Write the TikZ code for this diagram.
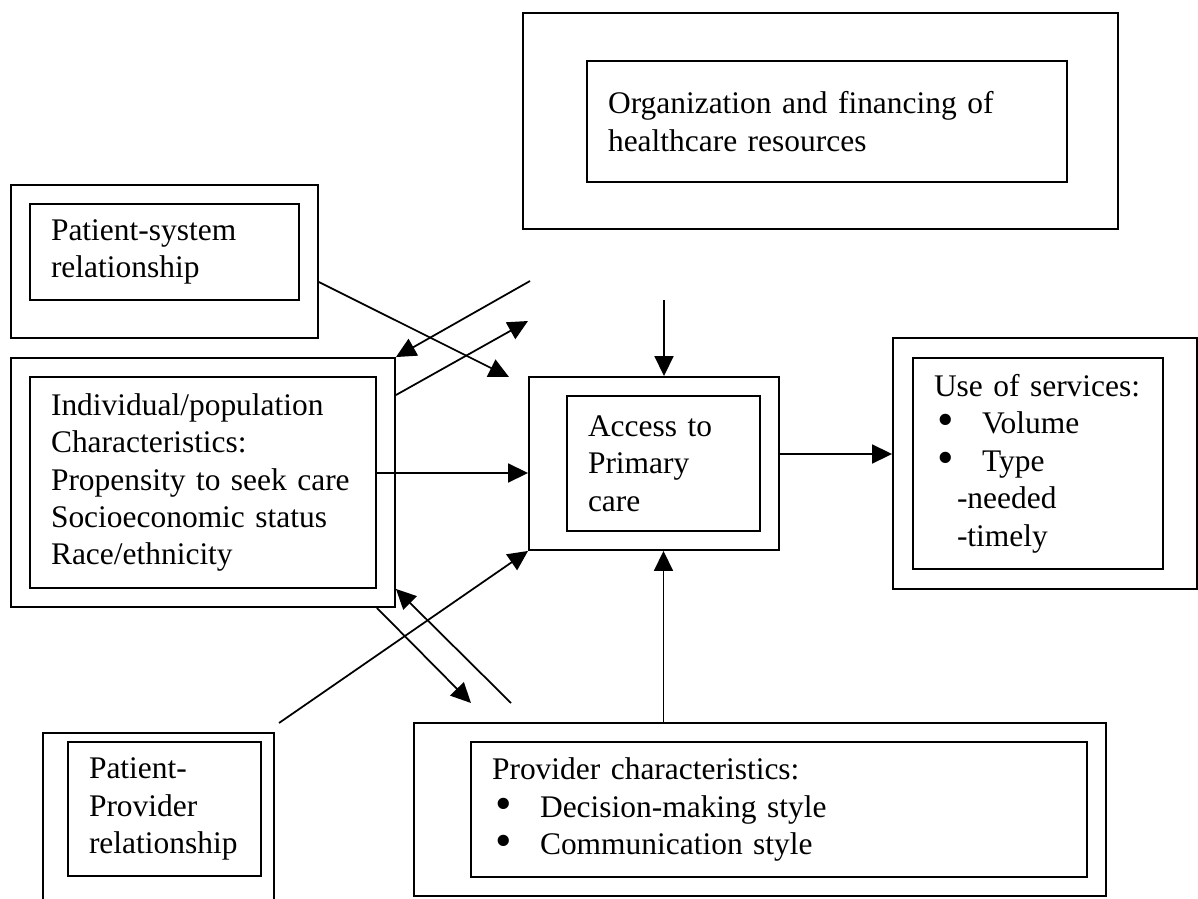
\documentclass[tikz,border=0pt]{standalone}
\usepackage{fontspec}
\setmainfont{Liberation Serif}
\usetikzlibrary{arrows.meta}

\tikzset{
  outbox/.style={draw, line width=1.1pt, inner sep=0pt},
  inbox/.style={draw, line width=1.1pt, inner xsep=0.42cm, inner ysep=0pt, align=left},
  arr/.style={-{Triangle[length=0.4cm,width=0.38cm]}, line width=1pt},
  ln/.style={line width=1pt}
}
\newcommand{\bul}{\hspace*{0.06cm}\makebox[0.9cm][l]{\raisebox{-0.04cm}{\scalebox{1.5}{\textbullet}}}}

\begin{document}
\begin{tikzpicture}[x=0.02cm, y=-0.02cm, font=\fontsize{17.9}{21.3}\selectfont]
\clip (0,0) rectangle (1198,899);

\node[outbox, minimum width=11.9cm, minimum height=4.32cm] (orgO) at (820.5,121) {};
\node[inbox, minimum width=9.6cm, minimum height=2.42cm, text width=8.76cm] (org) at (827,121.5) {Organization and financing of\\healthcare resources};

\node[outbox, minimum width=6.14cm, minimum height=3.06cm] (sysO) at (164.5,261.5) {};
\node[inbox, minimum width=5.38cm, minimum height=1.92cm, text width=4.54cm] (sys) at (164.5,252) {Patient-system\\relationship};

\node[outbox, minimum width=7.68cm, minimum height=4.98cm] (indivO) at (203,482.5) {};
\node[inbox, minimum width=6.92cm, minimum height=4.22cm, text width=6.08cm] (indiv) at (203,482.5) {Individual/population\\Characteristics:\\Propensity to seek care\\Socioeconomic status\\Race/ethnicity};

\node[outbox, minimum width=5cm, minimum height=3.46cm] (accessO) at (654,463.5) {};
\node[inbox, minimum width=3.86cm, minimum height=2.7cm, text width=3.02cm] (access) at (663.5,463.5) {Access to\\Primary\\care};

\node[outbox, minimum width=6.08cm, minimum height=5.02cm] (useO) at (1045,463.5) {};
\node[inbox, minimum width=5cm, minimum height=4.22cm, text width=4.16cm] (use) at (1038,463.5) {Use of services:\\\bul Volume\\\bul Type\\\hspace*{0.46cm}-needed\\\hspace*{0.46cm}-timely};

\node[outbox, minimum width=13.84cm, minimum height=3.46cm] (provO) at (760,809.5) {};
\node[inbox, minimum width=12.32cm, minimum height=2.7cm, text width=11.48cm] (prov) at (779,809.5) {Provider characteristics:\\\bul Decision-making style\\\bul Communication style};

\node[outbox, minimum width=4.62cm, minimum height=3.74cm] (ppO) at (158.5,826.5) {};
\node[inbox, minimum width=3.86cm, minimum height=2.68cm, text width=3.02cm] (pp) at (164.5,809) {Patient-\\Provider\\relationship};

\coordinate (sysTip) at (509,377);
\coordinate (backStart) at (530,281);
\coordinate (fwdTip) at (528,321);
\coordinate (orgEnd) at (664,300);
\coordinate (ppEnd) at (279,723);
\coordinate (downTip) at (471,703);
\coordinate (upStart) at (511,703);

\draw[arr] ([yshift=-0.41cm]sysO.east) -- (sysTip);
\draw[arr] (backStart) -- (indivO.north east);
\draw[arr] ([yshift=-0.76cm]indivO.north east) -- (fwdTip);
\draw[arr] ([yshift=0.19cm]indiv.east) -- ([yshift=-0.19cm]accessO.west);
\draw[arr] (orgEnd) -- (orgEnd |- accessO.north);
\draw[arr] ([yshift=0.19cm]accessO.east) -- ([yshift=0.19cm]useO.west);
\draw[arr] (provO.north -| access) -- (accessO.south -| access);
\draw[arr] (ppEnd) -- (accessO.south west);
\draw[arr] (indivO.south -| indiv.east) -- (downTip);
\draw[arr] (upStart) -- (indivO.east |- indiv.south);
\end{tikzpicture}
\end{document}
